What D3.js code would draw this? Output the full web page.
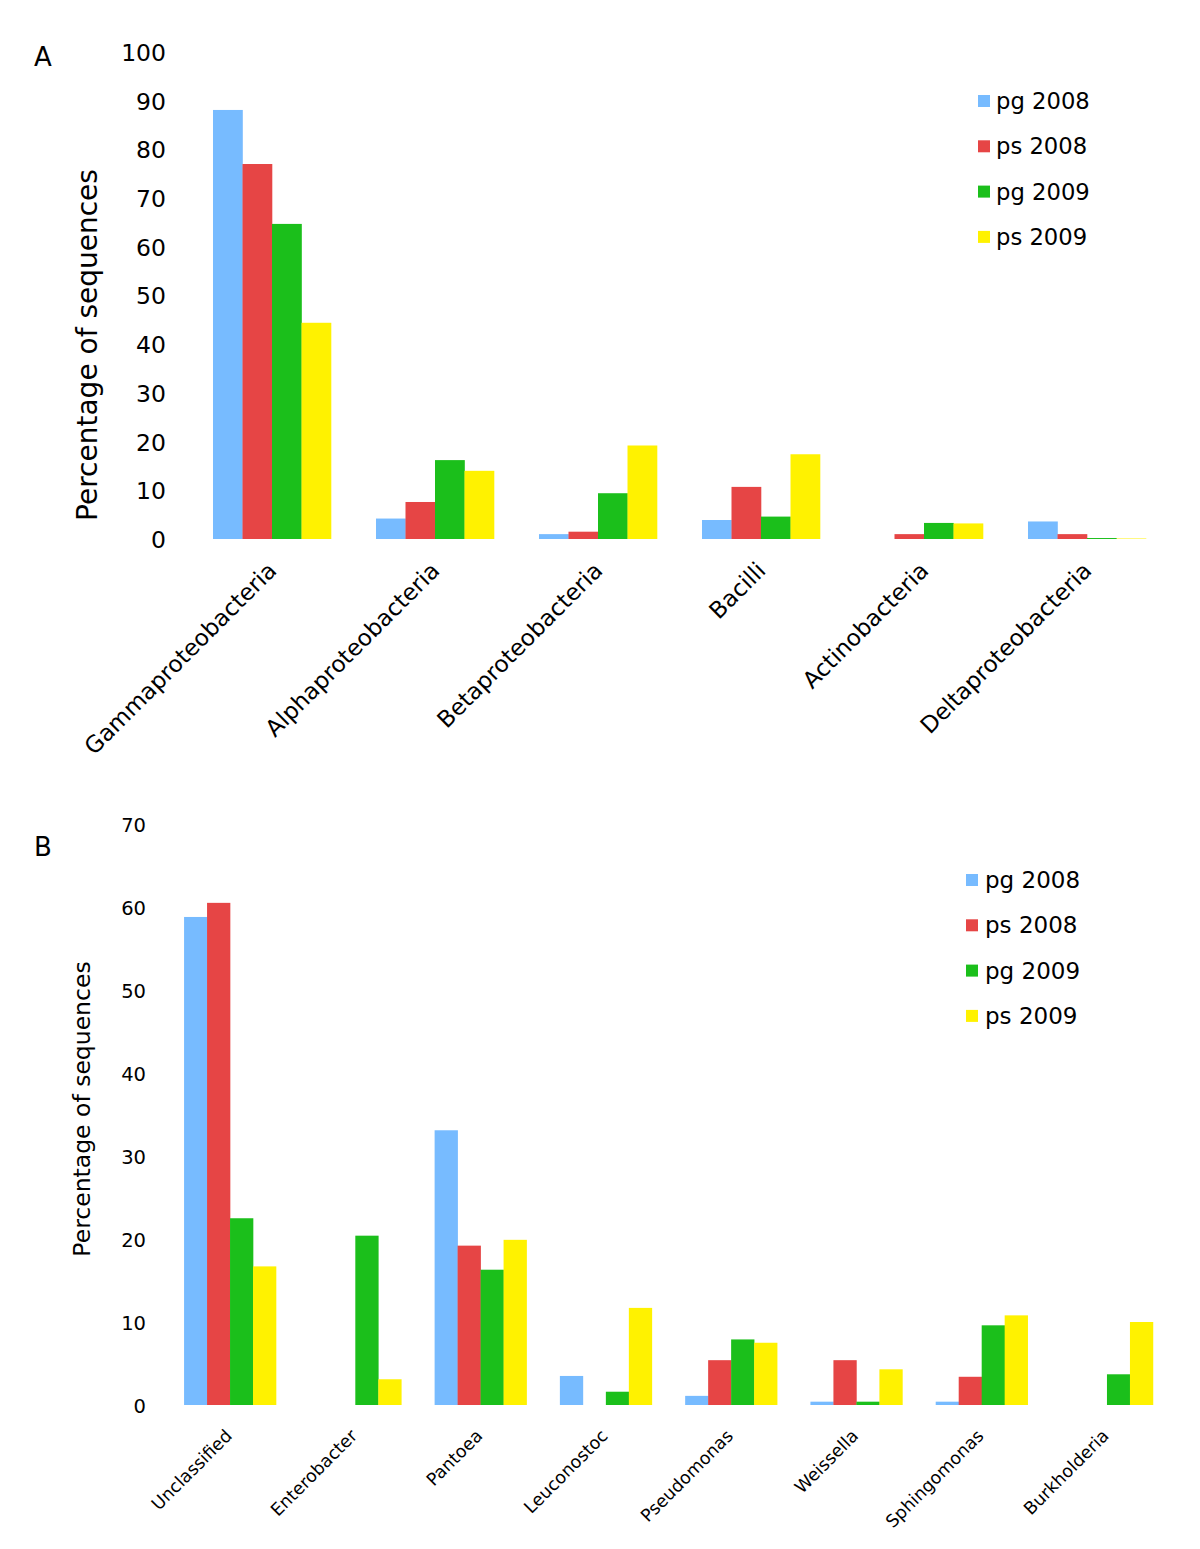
<!DOCTYPE html>
<html><head><meta charset="utf-8">
<script src="https://cdn.jsdelivr.net/npm/d3@7"></script>
<style>body{margin:0;background:#fff}svg{display:block}text{font-family:"DejaVu Sans",Verdana,sans-serif;fill:#000}</style>
</head><body>
<script>
const series = ["pg 2008","ps 2008","pg 2009","ps 2009"];
const colors = ["#77BBFF","#E64545","#1BBF1B","#FFF200"];

const catsA = ["Gammaproteobacteria","Alphaproteobacteria","Betaproteobacteria","Bacilli","Actinobacteria","Deltaproteobacteria"];
const pg2008A = [88.1, 4.2, 1.0, 3.9, 0, 3.6];
const ps2008A = [77.0, 7.6, 1.5, 10.7, 1.0, 1.0];
const pg2009A = [64.7, 16.2, 9.4, 4.6, 3.3, 0.2];
const ps2009A = [44.4, 14.0, 19.2, 17.4, 3.2, 0.1];
const ticksA = [0,10,20,30,40,50,60,70,80,90,100];

const catsB = ["Unclassified","Enterobacter","Pantoea","Leuconostoc","Pseudomonas","Weissella","Sphingomonas","Burkholderia"];
const pg2008B = [58.8, 0, 33.1, 3.5, 1.1, 0.4, 0.4, 0];
const ps2008B = [60.5, 0, 19.2, 0, 5.4, 5.4, 3.4, 0];
const pg2009B = [22.5, 20.4, 16.3, 1.6, 7.9, 0.4, 9.6, 3.7];
const ps2009B = [16.7, 3.1, 19.9, 11.7, 7.5, 4.3, 10.8, 10.0];
const ticksB = [0,10,20,30,40,50,60,70];

const svg = d3.select("body").append("svg").attr("width",1200).attr("height",1549);

function panel(cfg){
  const g = svg.append("g");
  const x = d3.scaleBand().domain(cfg.cats).range([cfg.left,cfg.right]).paddingInner(cfg.pad).paddingOuter(cfg.pad/2);
  const xs = d3.scaleBand().domain(series).range([0,x.bandwidth()]);
  const y = d3.scaleLinear().domain([0,cfg.max]).range([cfg.y0,cfg.yTop]);
  const data = cfg.cats.map((c,i)=>({c, vals: cfg.vals.map(v=>v[i])}));
  const grp = g.selectAll("g.cat").data(data).enter().append("g").attr("transform",d=>`translate(${x(d.c)},0)`);
  grp.selectAll("rect").data(d=>d.vals.map((v,j)=>({v,j}))).enter().append("rect")
    .attr("x",d=>xs(series[d.j])).attr("width",xs.bandwidth()+0.3)
    .attr("y",d=>y(d.v)).attr("height",d=>y(0)-y(d.v))
    .attr("fill",d=>colors[d.j]);
  const ax = g.append("g").attr("transform",`translate(${cfg.tickX},0)`)
    .call(d3.axisLeft(y).tickValues(cfg.ticks).tickSize(0).tickPadding(0));
  ax.select(".domain").remove();
  ax.selectAll("text").style("font-size",cfg.tickFont+"px").attr("font-family","DejaVu Sans").attr("dy","0.36em");
  const xa = g.append("g").attr("transform",`translate(0,${cfg.y0})`)
    .call(d3.axisBottom(x).tickSize(0).tickPadding(0));
  xa.select(".domain").remove();
  xa.selectAll("text")
    .attr("text-anchor","end").attr("dy",null).attr("y",0)
    .attr("transform",`translate(${cfg.labDx},${cfg.labDy}) rotate(-45)`)
    .style("font-size",cfg.catFont+"px").attr("font-family","DejaVu Sans");
  g.append("text").attr("transform",`translate(${cfg.titleX},${cfg.titleY}) rotate(-90)`)
    .attr("text-anchor","middle").style("font-size",cfg.titleFont+"px").text("Percentage of sequences");
  const lg = g.selectAll("g.leg").data(series).enter().append("g")
    .attr("transform",(d,i)=>`translate(${cfg.legX},${cfg.legY+i*cfg.legStep})`);
  lg.append("rect").attr("x",0).attr("y",-6).attr("width",12).attr("height",12).attr("fill",(d,i)=>colors[i]);
  lg.append("text").attr("x",cfg.legTx).attr("y",0).attr("dy","0.35em").style("font-size",cfg.legFont+"px").text(d=>d);
  g.append("text").attr("x",cfg.letterX).attr("y",cfg.letterY).style("font-size","26px").text(cfg.letter);
}

panel({cats:catsA, vals:[pg2008A,ps2008A,pg2009A,ps2009A], left:190.5, right:1168.5, pad:0.276,
  max:100, y0:539, yTop:52, ticks:ticksA, tickX:166, tickFont:23.5, catFont:23, labDx:6, labDy:33,
  titleX:97, titleY:345, titleFont:28, legX:978, legY:101, legStep:45.3, legTx:18, legFont:22.7,
  letter:"A", letterX:34, letterY:66});

panel({cats:catsB, vals:[pg2008B,ps2008B,pg2009B,ps2009B], left:167.4, right:1169.6, pad:0.266,
  max:70, y0:1405, yTop:824, ticks:ticksB, tickX:146, tickFont:19.5, catFont:17.5, labDx:3, labDy:32,
  titleX:90, titleY:1109, titleFont:23.5, legX:966, legY:880, legStep:45.3, legTx:19, legFont:23,
  letter:"B", letterX:34, letterY:856});
</script>
</body></html>
